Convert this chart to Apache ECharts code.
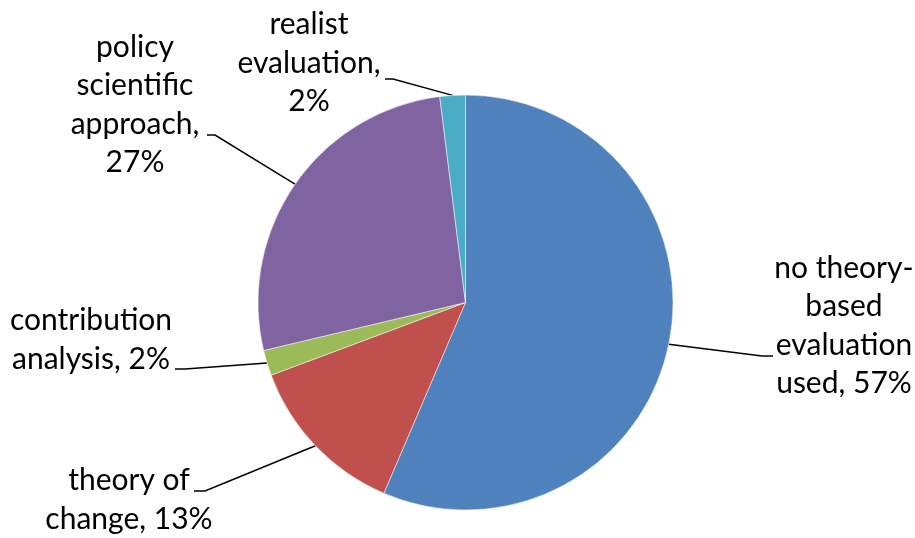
<!DOCTYPE html>
<html>
<head>
<meta charset="utf-8">
<script src="https://cdn.jsdelivr.net/npm/echarts@6/dist/echarts.min.js"></script>
<style>html,body{margin:0;padding:0;background:#fff}#c{width:915px;height:538px}</style>
</head>
<body>
<div id="c"></div>
<script>
// ---- data ----
const categories = ['no theory-based evaluation used', 'theory of change', 'contribution analysis', 'policy scientific approach', 'realist evaluation'];
const values = [57, 13, 2, 27, 2];
const labelTemplates = ['no theory-\nbased\nevaluation\nused, {v}%', 'theory of\nchange, {v}%', 'contribution\nanalysis, {v}%', 'policy\nscientific\napproach,\n{v}%', 'realist\nevaluation,\n{v}%'];
const colors = ['#4F81BD', '#C0504D', '#9BBB59', '#8064A2', '#4BACC6'];

// ---- label layout (text block centre, leader line bend and end) ----
const labelPos = [
  { text: [844, 326], bend: [762, 356], end: [773, 356] },
  { text: [129, 500], bend: [205, 491], end: [194, 491] },
  { text: [91, 340], bend: [185, 369], end: [175, 369] },
  { text: [135, 105], bend: [215, 135], end: [207, 135] },
  { text: [309, 63], bend: [393, 79], end: [385, 79] }
];

const chart = echarts.init(document.getElementById('c'), null, { renderer: 'canvas' });
chart.setOption({
  animation: false,
  backgroundColor: '#fff',
  color: colors,
  series: [{
    type: 'pie',
    center: [465.5, 302.5],
    radius: 207.5,
    startAngle: 90,
    clockwise: true,
    avoidLabelOverlap: false,
    itemStyle: { borderColor: '#fff', borderWidth: 0.5 },
    label: {
      show: true,
      position: 'outside',
      fontFamily: 'Lato',
      fontSize: 30,
      lineHeight: 38.5,
      color: '#000',
      align: 'center',
      formatter: p => labelTemplates[p.dataIndex].replace('{v}', p.value)
    },
    labelLine: { show: true, length: 20, length2: 20, lineStyle: { color: '#000', width: 1.5 } },
    emphasis: { disabled: true },
    labelLayout: function (params) {
      const lp = labelPos[params.dataIndex];
      const start = params.labelLinePoints ? params.labelLinePoints[0] : lp.bend;
      return {
        x: lp.text[0],
        y: lp.text[1],
        align: 'center',
        verticalAlign: 'middle',
        labelLinePoints: [start, lp.bend, lp.end]
      };
    },
    data: categories.map((c, i) => ({ name: c, value: values[i] }))
  }]
});
</script>
</body>
</html>
